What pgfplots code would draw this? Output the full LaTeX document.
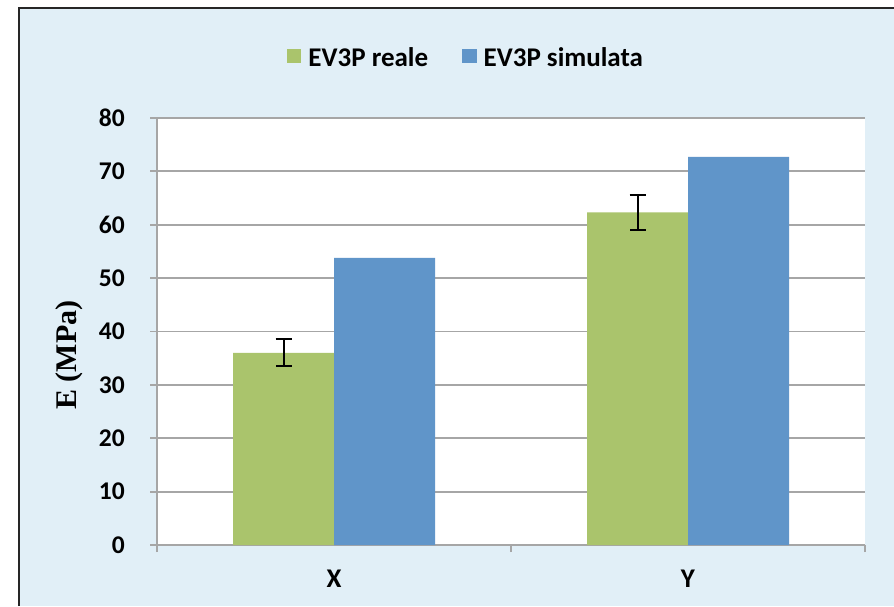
\documentclass[border=0pt]{standalone}
\usepackage{pgfplots}
\pgfplotsset{compat=1.18}
\usepackage{fontspec}
\setmainfont{Carlito}
\newfontfamily\tnr{Liberation Serif}
\definecolor{bgc}{RGB}{225,239,247}
\definecolor{barg}{RGB}{170,196,108}
\definecolor{barb}{RGB}{96,149,201}
\definecolor{gridc}{RGB}{166,166,166}
\begin{document}
\begin{tikzpicture}
\useasboundingbox (0,0) rectangle (894pt,606pt);
\fill[bgc] (19pt,0) rectangle (894pt,598pt);
\draw[line width=1.2pt, black!85] (19pt,0) -- (19pt,598pt) -- (894pt,598pt);
\begin{axis}[
  at={(157pt,61pt)}, anchor=south west,
  scale only axis, width=708pt, height=427pt,
  axis background/.style={fill=white},
  ybar=0pt, bar width=101pt,
  xmin=-0.5, xmax=1.5, ymin=0, ymax=80,
  xtick={0,1}, xticklabels={X,Y},
  minor xtick={-0.5,0.5,1.5},
  ytick={0,10,...,80},
  axis x line*=bottom, axis y line*=left,
  axis line style={draw=gridc, line width=1.8pt, -},
  ymajorgrids, major grid style={draw=gridc, line width=1.8pt},
  tick align=outside,
  major tick length=7pt, minor tick length=7pt,
  xtick style={draw=none},
  ytick style={draw=gridc, line width=1.8pt},
  minor x tick style={draw=gridc, line width=1.8pt},
  /pgf/number format/assume math mode=true,
  yticklabel style={font=\bfseries\fontsize{25.5}{30}\selectfont, inner sep=0pt, xshift=-25pt, anchor=east},
  xticklabel style={font=\bfseries\fontsize{27}{32}\selectfont, inner sep=0pt, yshift=-18pt, anchor=north},
  ylabel={\tnr\bfseries E (MPa)},
  ylabel style={font=\fontsize{30}{36}\selectfont, at={(axis description cs:-0.1243,0.445)}, anchor=center, rotate=0},
  legend columns=2,
  legend style={draw=none, fill=none, at={(0.4364,1.1405)}, anchor=center,
    font=\bfseries\fontsize{27}{32}\selectfont,
    /tikz/every odd column/.append style={column sep=5pt},
    /tikz/every even column/.append style={column sep=32pt}},
]
\addplot[fill=barg, draw=none,
  legend image code/.code={\fill[barg] (0pt,-5pt) rectangle (14.5pt,9.5pt);},
  error bars/.cd, y dir=both, y explicit,
  error bar style={black, line width=2pt},
  error mark options={black, line width=2pt, mark size=8pt, rotate=90}]
  coordinates {(0,36.0) +- (0,2.55) (1,62.3) +- (0,3.3)};
\addlegendentry{EV3P reale}
\addplot[fill=barb, draw=none,
  legend image code/.code={\fill[barb] (0pt,-5pt) rectangle (14.5pt,9.5pt);}]
  coordinates {(0,53.8) (1,72.7)};
\addlegendentry{EV3P simulata}
\end{axis}
\end{tikzpicture}
\end{document}
